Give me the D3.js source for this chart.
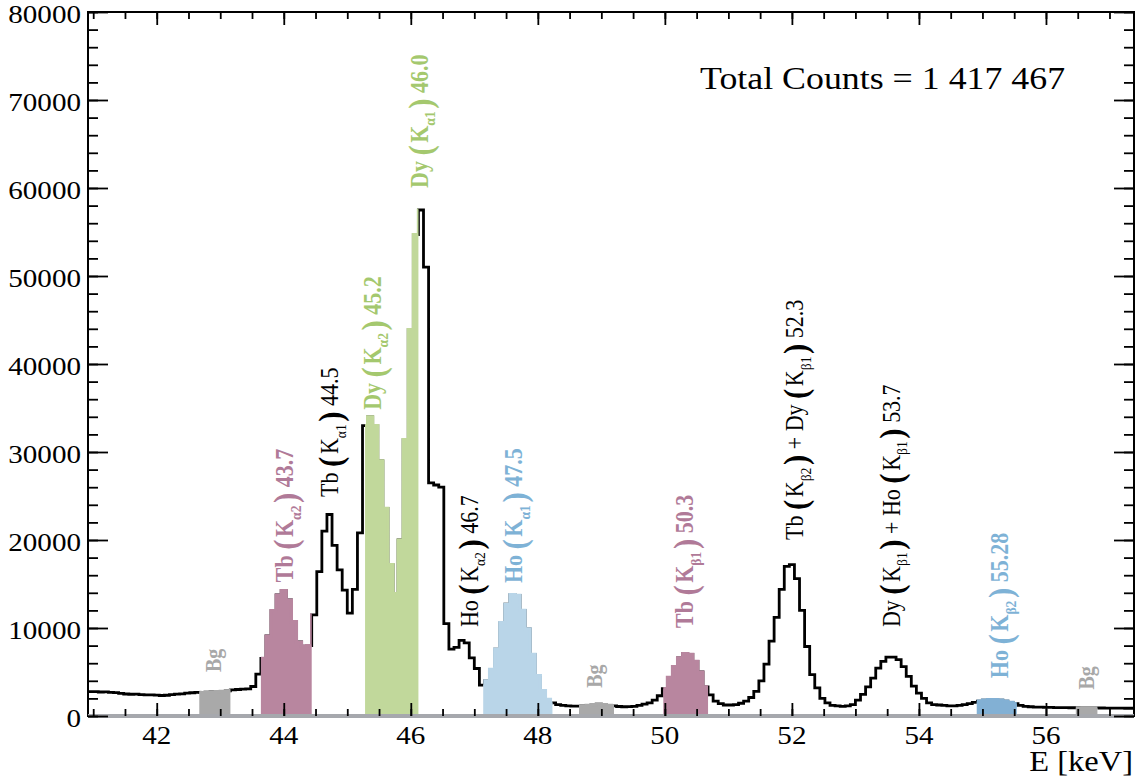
<!DOCTYPE html>
<html>
<head>
<meta charset="utf-8">
<script src="https://cdn.jsdelivr.net/npm/d3@7"></script>
<style>
  body { margin: 0; background: #fff; }
  svg { display: block; font-family: "Liberation Serif", "Times New Roman", serif; }
</style>
</head>
<body>
<div id="chart"></div>
<script>
// histogram: bins of 0.08 keV starting at 40.92 keV
const binStart = 40.92;
const binWidth = 0.08;
const counts = [
  2780, 2760, 2730, 2740, 2690, 2650, 2560, 2500, 2470, 2480,
  2420, 2390, 2410, 2380, 2330, 2360, 2430, 2480, 2520, 2600,
  2640, 2690, 2670, 2700, 2730, 2760, 2800, 2850, 2980, 3010,
  3050, 3080, 3350, 4750, 6550, 9090, 11970, 13750, 14240, 13180,
  10720, 8410, 7950, 8000, 11500, 16400, 21000, 22900, 19400, 16600,
  14300, 11700, 14400, 20800, 33000, 34000, 33000, 29000, 23600, 17200,
  13900, 20000, 31400, 43900, 54700, 57500, 51000, 26500, 26250, 26000,
  10500, 7600, 7800, 8600, 8300, 6600, 5400, 3500, 4000, 5300,
  7600, 10600, 12700, 13800, 13700, 12000, 9900, 7000, 4600, 2900,
  1900, 1500, 1300, 1200, 1150, 1120, 1130, 1150, 1200, 1300,
  1350, 1300, 1200, 1150, 1080, 1050, 1060, 1100, 1200, 1350,
  1500, 1800, 2300, 3100, 4400, 5600, 6600, 7100, 7000, 6200,
  5000, 3300, 2400, 1700, 1400, 1250, 1250, 1300, 1450, 1700,
  2100, 2800, 4000, 5900, 8500, 11200, 14400, 17000, 17200, 15600,
  12000, 7900, 4700, 3200, 2000, 1500, 1200, 1150, 1100, 1150,
  1300, 1800, 2450, 3300, 4300, 5450, 6200, 6700, 6700, 6400,
  5600, 4500, 3400, 2600, 2000, 1500, 1300, 1250, 1200, 1150,
  1150, 1200, 1300, 1400, 1550, 1700, 1800, 1850, 1850, 1800,
  1700, 1550, 1400, 1200, 1100, 1050, 1000, 1000, 980, 970,
  960, 950, 950, 940, 940, 930, 930, 920, 920, 910,
  900, 900, 890, 890, 880, 880
];

const xTicks = [42, 44, 46, 48, 50, 52, 54, 56];
const yTicks = [0, 10000, 20000, 30000, 40000, 50000, 60000, 70000, 80000];

// shaded peak / background windows (keV)
const fillLo = [42.67, 43.64, 45.28, 47.14, 48.65, 49.975, 54.91, 56.47];
const fillHi = [43.16, 44.44, 46.12, 48.23, 49.20, 50.68, 55.54, 56.81];
const fillColor = ['#a9a9a9', '#b8869f', '#c1d89b', '#b9d5e8', '#a9a9a9', '#b8869f', '#82b0d4', '#a9a9a9'];

// peak labels: text, energy position, count at text start
const labelText = [
  'Bg', 'Tb (K_α2) 43.7', 'Tb (K_α1) 44.5', 'Dy (K_α2) 45.2', 'Dy (K_α1) 46.0',
  'Ho (K_α2) 46.7', 'Ho (K_α1) 47.5', 'Bg', 'Tb (K_β1) 50.3',
  'Tb (K_β2) + Dy (K_β1) 52.3', 'Dy (K_β1) + Ho (K_β1) 53.7', 'Ho (K_β2) 55.28', 'Bg'
];
const labelE = [42.9, 44.02, 44.73, 45.4, 46.14, 46.93, 47.63, 48.9, 50.32, 52.05, 53.57, 55.28, 56.64];
const labelCount = [5000, 15200, 24900, 34800, 60000, 10100, 15100, 3200, 10000, 20000, 10100, 4300, 3000];
const labelColor = ['#a8a8a8', '#b07a98', '#000', '#a4c86e', '#a4c86e', '#000', '#7eb2d6', '#a8a8a8',
  '#b07a98', '#000', '#000', '#7eb2d6', '#a8a8a8'];
const labelBold = [true, true, false, true, true, false, true, true, true, false, false, true, true];

const totalText = 'Total Counts = 1 417 467';

const width = 1138;
const height = 780;
const margin = { top: 12, right: 4, bottom: 64, left: 88 };
const sx = 1.12; // glyphs are a little wide in the original

const svg = d3.select('#chart')
  .append('svg')
  .attr('width', width)
  .attr('height', height);

const x = d3.scaleLinear()
  .domain([40.918, 57.386])
  .range([margin.left, width - margin.right]);

const y = d3.scaleLinear()
  .domain([0, 80000])
  .range([height - margin.bottom, margin.top]);

const bins = counts.map((c, i) => ({ e: binStart + i * binWidth, c: c }));
bins.push({ e: binStart + counts.length * binWidth, c: counts[counts.length - 1] });

svg.append('defs').append('clipPath')
  .attr('id', 'plot-clip')
  .append('rect')
  .attr('x', margin.left)
  .attr('y', margin.top)
  .attr('width', width - margin.left - margin.right)
  .attr('height', height - margin.top - margin.bottom);

const plot = svg.append('g').attr('clip-path', 'url(#plot-clip)');

const line = d3.line()
  .x(d => x(d.e))
  .y(d => y(d.c))
  .curve(d3.curveStepAfter);

const area = d3.area()
  .x(d => x(d.e))
  .y0(y(0))
  .y1(d => y(d.c))
  .curve(d3.curveStepAfter);

plot.append('path')
  .datum(bins)
  .attr('fill', 'none')
  .attr('stroke', '#000')
  .attr('stroke-width', 2.8)
  .attr('d', line);

// filled windows on top of the outline
fillLo.forEach((lo, i) => {
  const id = 'fill-clip-' + i;
  svg.select('defs').append('clipPath')
    .attr('id', id)
    .append('rect')
    .attr('x', x(lo))
    .attr('y', margin.top)
    .attr('width', x(fillHi[i]) - x(lo))
    .attr('height', height - margin.top - margin.bottom);

  const g = plot.append('g').attr('clip-path', `url(#${id})`);
  g.append('path')
    .datum(bins)
    .attr('fill', fillColor[i])
    .attr('d', area);
  g.append('path')
    .datum(bins)
    .attr('fill', 'none')
    .attr('stroke', fillColor[i])
    .attr('stroke-width', 3.2)
    .attr('d', line);
});

// frame
svg.append('rect')
  .attr('x', margin.left)
  .attr('y', margin.top)
  .attr('width', width - margin.left - margin.right)
  .attr('height', height - margin.top - margin.bottom)
  .attr('fill', 'none')
  .attr('stroke', '#000')
  .attr('stroke-width', 2);

// grey baseline along the bottom
svg.append('line')
  .attr('x1', margin.left)
  .attr('x2', width - margin.right)
  .attr('y1', y(0))
  .attr('y2', y(0))
  .attr('stroke', '#a6a8ad')
  .attr('stroke-width', 4);

const xMinor = d3.range(41, 57.01, 0.5);
const yMinor = d3.range(0, 80001, 2000);

function ticks(axis, tr) {
  const g = svg.append('g')
    .attr('transform', tr)
    .call(axis);
  g.select('.domain').remove();
  g.selectAll('line').attr('stroke', '#000').attr('stroke-width', 1.8);
}

ticks(d3.axisBottom(x).tickValues(xTicks).tickSize(-13).tickFormat(''), `translate(0,${y(0)})`);
ticks(d3.axisBottom(x).tickValues(xMinor).tickSize(-7).tickFormat(''), `translate(0,${y(0)})`);
ticks(d3.axisTop(x).tickValues(xTicks).tickSize(-13).tickFormat(''), `translate(0,${margin.top})`);
ticks(d3.axisTop(x).tickValues(xMinor).tickSize(-7).tickFormat(''), `translate(0,${margin.top})`);
ticks(d3.axisLeft(y).tickValues(yTicks).tickSize(-20).tickFormat(''), `translate(${margin.left},0)`);
ticks(d3.axisLeft(y).tickValues(yMinor).tickSize(-10).tickFormat(''), `translate(${margin.left},0)`);
ticks(d3.axisRight(y).tickValues(yTicks).tickSize(-20).tickFormat(''), `translate(${width - margin.right},0)`);
ticks(d3.axisRight(y).tickValues(yMinor).tickSize(-10).tickFormat(''), `translate(${width - margin.right},0)`);

// tick labels
svg.append('g').selectAll('text')
  .data(xTicks)
  .enter()
  .append('text')
  .attr('transform', d => `translate(${x(d)},744) scale(${sx},1)`)
  .attr('text-anchor', 'middle')
  .attr('font-size', 26)
  .text(d => d);

svg.append('g').selectAll('text')
  .data(yTicks)
  .enter()
  .append('text')
  .attr('transform', d => `translate(81,${y(d) + 11}) scale(${sx},1)`)
  .attr('text-anchor', 'end')
  .attr('font-size', 26)
  .text(d => d);

// axis title
svg.append('text')
  .attr('transform', `translate(1133,771) scale(${sx},1)`)
  .attr('text-anchor', 'end')
  .attr('font-size', 29)
  .text('E [keV]');

// total counts
svg.append('text')
  .attr('transform', `translate(700,89) scale(${sx},1)`)
  .attr('font-size', 32)
  .text(totalText);

// rotated peak labels
const gLabels = svg.append('g');
labelText.forEach((str, i) => {
  const size = str === 'Bg' ? 20 : 22;
  const t = gLabels.append('text')
    .attr('transform', `translate(${x(labelE[i])},${y(labelCount[i])}) scale(${sx},1) rotate(-90)`)
    .attr('y', size * 0.33)
    .attr('font-size', size)
    .attr('font-weight', labelBold[i] ? 'bold' : 'normal')
    .attr('fill', labelColor[i]);

  let cur = 0;
  str.split(/([()]|_[^\s()]+)/).filter(p => p !== '').forEach(p => {
    let target = 0;
    const ts = t.append('tspan');
    if (p === '(') {
      target = size * 0.15;
      ts.attr('font-size', size * 1.4).attr('font-weight', 'bold').text('(\u200a');
    } else if (p === ')') {
      target = size * 0.15;
      ts.attr('font-size', size * 1.4).attr('font-weight', 'bold').text('\u200a)');
    } else if (p[0] === '_') {
      target = size * 0.3;
      ts.attr('font-size', size * 0.62).text(p.slice(1));
    } else {
      ts.text(p);
    }
    if (target !== cur) ts.attr('dy', target - cur);
    cur = target;
  });
});
</script>
</body>
</html>
